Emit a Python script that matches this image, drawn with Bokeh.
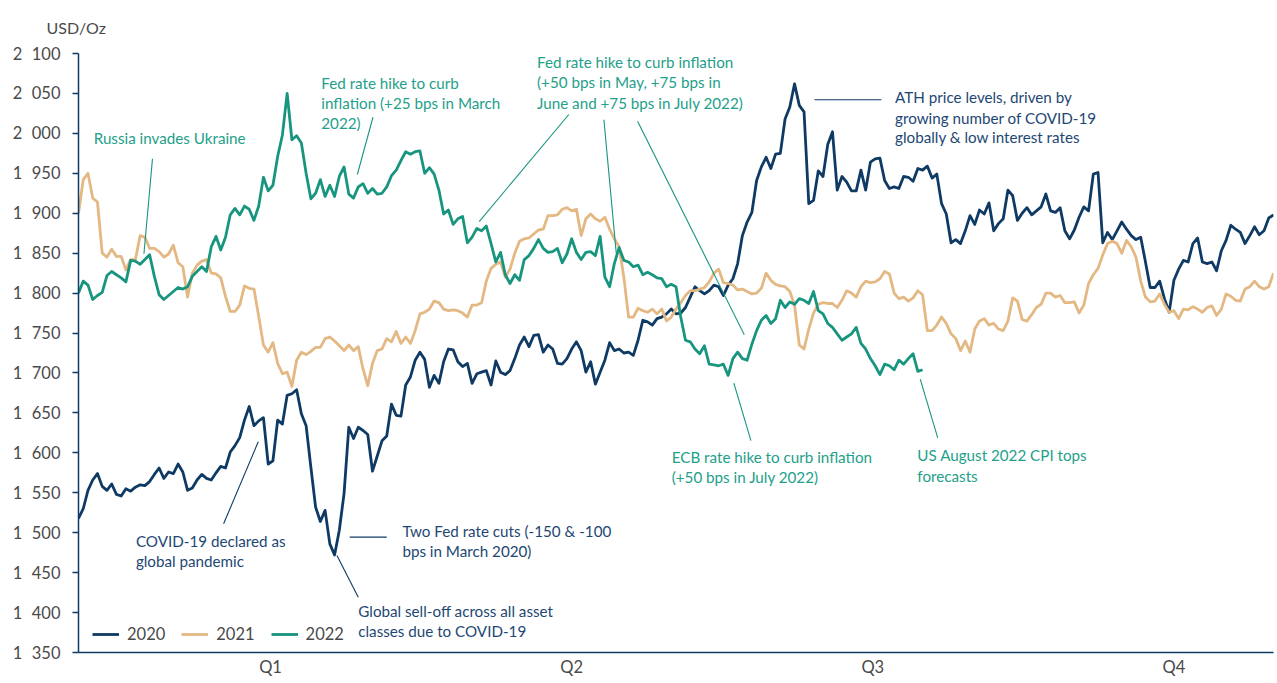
from bokeh.plotting import figure
from bokeh.models import Range1d, FixedTicker, Legend, ColumnDataSource
from bokeh.core.properties import value
from bokeh.embed import file_html
from bokeh.resources import INLINE

# ---------------- data (gold price, USD/Oz, per trading day) ----------------
gold_2020 = [
    1518, 1530, 1553, 1566, 1574, 1558, 1553, 1561, 1548, 1546,
    1555, 1552, 1557, 1560, 1559, 1564, 1573, 1581, 1568,
    1576, 1574, 1586, 1576, 1553, 1556, 1566, 1573, 1568,
    1566, 1575, 1583, 1581, 1601, 1609, 1619, 1641, 1658, 1634,
    1640, 1644, 1586, 1590, 1641, 1636, 1672, 1674, 1679, 1649,
    1634, 1582, 1532,
    1514, 1528, 1486, 1472, 1503, 1549, 1632, 1618, 1632, 1628,
    1623, 1577, 1596, 1615, 1621, 1661, 1647, 1646, 1685, 1695,
    1716, 1726, 1717, 1682, 1697, 1687, 1714, 1730, 1729,
    1714, 1708, 1712, 1687, 1699, 1701, 1703, 1685, 1715, 1701,
    1698, 1703, 1718, 1735, 1745, 1733, 1747, 1748, 1726, 1735,
    1730, 1712, 1711, 1718, 1730, 1739, 1728, 1701, 1714, 1686,
    1701, 1716, 1738, 1728, 1730, 1725, 1726, 1722, 1741,
    1766,
    1764, 1760, 1768, 1770, 1774, 1780, 1774, 1775, 1782, 1795,
    1808, 1803, 1799, 1803, 1810, 1808, 1797, 1810, 1818, 1837,
    1872, 1889, 1901, 1941, 1958, 1970, 1956, 1974, 1975, 2018,
    2033, 2062, 2035, 2027, 1912, 1916, 1953, 1946, 1986, 2002,
    1929, 1946, 1939, 1928, 1928, 1954, 1929, 1964, 1968, 1969,
    1941, 1931, 1933, 1931, 1946, 1945, 1940, 1956, 1954,
    1959, 1944, 1949, 1912, 1899, 1863, 1867, 1862, 1878, 1897,
    1886, 1904, 1899, 1913, 1878, 1887, 1893, 1929, 1922, 1891,
    1900, 1907, 1898, 1903, 1908, 1924, 1903, 1901, 1907,
    1878, 1868, 1879, 1895, 1908, 1903, 1949, 1951, 1863, 1876,
    1867, 1878, 1889, 1880, 1872, 1867, 1870, 1839, 1807,
    1807, 1815, 1793, 1776, 1816, 1830, 1841, 1839, 1862, 1869,
    1839, 1837, 1839, 1828, 1853, 1866, 1885, 1880, 1876, 1862,
    1872, 1883, 1873, 1878, 1894, 1898,
]

gold_2021 = [
    1900, 1942, 1950, 1919, 1914, 1850, 1845, 1855, 1846, 1846,
    1829, 1842, 1842, 1872, 1870, 1856, 1856, 1852, 1845, 1849,
    1860, 1838, 1833, 1795, 1825, 1835, 1840, 1842, 1825, 1824,
    1819, 1796, 1777, 1777, 1785, 1809, 1806, 1805, 1771,
    1735, 1726, 1738, 1712, 1699, 1701, 1683, 1716, 1726, 1723,
    1727, 1732, 1732,
    1743, 1745, 1740, 1734, 1728, 1735, 1728, 1733, 1705, 1684,
    1712, 1728, 1730, 1743, 1739, 1752, 1737, 1745, 1737, 1753,
    1774, 1776, 1780, 1790, 1788, 1780, 1778, 1779, 1778, 1775,
    1770, 1785, 1785, 1788, 1815, 1831, 1836, 1839, 1820, 1830,
    1850, 1865, 1868, 1869, 1874, 1879, 1880, 1897, 1897, 1898,
    1905, 1907, 1903, 1905, 1872, 1893, 1899, 1893, 1890, 1895,
    1880, 1868, 1858, 1820, 1770, 1770, 1781,
    1778, 1776, 1780, 1774, 1780, 1765, 1770, 1780, 1788, 1797,
    1803, 1803, 1805, 1807, 1814, 1825, 1830, 1813, 1812, 1810,
    1804, 1805, 1802, 1799, 1800, 1806, 1825, 1816, 1811, 1809,
    1808, 1802, 1785, 1735, 1730, 1755, 1775, 1786, 1788, 1787,
    1787, 1782, 1791, 1803, 1800, 1795, 1808, 1815, 1813, 1814,
    1818, 1827, 1824, 1800, 1793, 1795, 1790, 1794, 1803, 1798,
    1753, 1753, 1760, 1770, 1762, 1749, 1743,
    1728, 1740, 1726, 1755, 1765, 1768, 1760, 1762, 1755,
    1753, 1765, 1794, 1790, 1767, 1765, 1773, 1782, 1786, 1800,
    1800, 1795, 1797, 1788, 1788, 1789, 1775, 1785, 1812, 1823,
    1831, 1848, 1862, 1865, 1862, 1850, 1866, 1858, 1845, 1815,
    1795, 1789, 1790, 1799, 1786, 1776, 1778, 1768, 1780, 1779,
    1783, 1780, 1776, 1782, 1784, 1772, 1780, 1799, 1796, 1791,
    1790, 1805, 1808, 1815, 1808, 1805, 1808, 1825,
]

gold_2022 = [
    1800, 1815, 1810, 1792, 1797, 1801, 1822, 1827, 1823, 1819,
    1814, 1841, 1840, 1836, 1842, 1848, 1821, 1798, 1792,
    1797, 1802, 1807, 1805, 1808, 1821, 1827, 1833, 1827, 1858,
    1871, 1854, 1870, 1898, 1906, 1898, 1909, 1905, 1891,
    1909, 1945, 1928, 1935, 1971, 1998, 2050, 1992, 1997, 1988,
    1950, 1918, 1925, 1942, 1921, 1935,
    1921, 1946, 1958, 1924, 1919, 1933, 1937, 1925, 1931,
    1924, 1925, 1933, 1947, 1954, 1966, 1977, 1974, 1977, 1978,
    1950, 1957, 1949, 1929, 1899, 1904, 1886, 1893, 1896, 1863,
    1870, 1881, 1878, 1884, 1862, 1839, 1851, 1823, 1812, 1823,
    1816, 1842, 1847, 1856, 1867, 1856, 1851, 1852, 1856,
    1838, 1849, 1868, 1851, 1842, 1851, 1852, 1847, 1871, 1820,
    1808, 1837, 1857, 1841, 1839, 1833, 1835, 1823, 1826,
    1823, 1819, 1818, 1808, 1811, 1808, 1770, 1741,
    1739, 1730, 1724, 1734, 1711, 1710, 1709, 1711, 1697, 1718,
    1726, 1718, 1716, 1736, 1753,
    1766, 1772, 1762, 1768, 1791, 1782, 1789, 1786, 1793, 1791,
    1787, 1802, 1778, 1774, 1762, 1757, 1749, 1741,
    1745, 1749, 1757, 1737, 1730, 1718, 1709, 1698, 1711, 1709,
    1704, 1716, 1711, 1718, 1724, 1702, 1704,
]

series_names = ["2020", "2021", "2022"]
y_tick_values = [1350, 1400, 1450, 1500, 1550, 1600, 1650, 1700, 1750,
                 1800, 1850, 1900, 1950, 2000, 2050, 2100]
y_tick_labels = ["1\u2007350", "1\u2007400", "1\u2007450", "1\u2007500",
                 "1\u2007550", "1\u2007600", "1\u2007650", "1\u2007700",
                 "1\u2007750", "1\u2007800", "1\u2007850", "1\u2007900",
                 "1\u2007950", "2\u2007000", "2\u2007050", "2\u2007100"]
quarter_labels = ["Q1", "Q2", "Q3", "Q4"]
quarter_days = [40.5, 104, 167.5, 231]
unit_label = "USD/Oz"

# ---------------- style ----------------
NAVY = "#0e3a64"
TAN = "#e3b883"
TEAL = "#17957f"
NAVY_TXT = "#1d4773"
TEAL_TXT = "#23a08a"
GREY = "#4a4a4a"
FONT = "Lato"

p = figure(width=1276, height=682, output_backend="svg", toolbar_location=None,
           x_range=Range1d(0, 252), y_range=Range1d(1350, 2100),
           min_border_left=78, min_border_right=3, min_border_top=53,
           min_border_bottom=30)
p.outline_line_color = None
p.grid.visible = False
p.background_fill_color = "white"

p.title.text = unit_label
p.title.text_font = FONT
p.title.text_font_size = "16px"
p.title.text_font_style = "normal"
p.title.text_color = GREY
p.title.align = "left"
p.title.offset = -32
p.title.vertical_align = "top"
p.title.standoff = 30

# axes
ya = p.yaxis[0]
ya.ticker = FixedTicker(ticks=y_tick_values)
ya.major_label_overrides = {v: l for v, l in zip(y_tick_values, y_tick_labels)}
ya.axis_line_color = NAVY
ya.axis_line_width = 1.5
ya.major_tick_line_color = NAVY
ya.major_tick_line_width = 1.5
ya.major_tick_out = 6
ya.major_tick_in = 0
ya.minor_tick_line_color = None
ya.major_label_text_font = FONT
ya.major_label_text_font_size = "16.5px"
ya.major_label_text_color = GREY
ya.major_label_standoff = 12

xa = p.xaxis[0]
xa.ticker = FixedTicker(ticks=quarter_days)
xa.major_label_overrides = {d: l for d, l in zip(quarter_days, quarter_labels)}
xa.axis_line_color = NAVY
xa.axis_line_width = 1.5
xa.major_tick_line_color = None
xa.major_tick_out = 0
xa.major_tick_in = 0
xa.minor_tick_line_color = None
xa.major_label_text_font = FONT
xa.major_label_text_font_size = "16.5px"
xa.major_label_text_color = GREY
xa.major_label_standoff = 4

# lines
renderers = []
for vals, color in zip([gold_2020, gold_2021, gold_2022], [NAVY, TAN, TEAL]):
    r = p.line(x=list(range(len(vals))), y=vals, line_color=color, line_width=2.8,
               line_join="round")
    renderers.append(r)

legend = Legend(items=[(n, [r]) for n, r in zip(series_names, renderers)],
                location=(14, 8), orientation="horizontal",
                glyph_width=27, glyph_height=20, label_standoff=8, spacing=16,
                padding=0, margin=0, border_line_color=None,
                background_fill_alpha=0,
                label_text_font=FONT, label_text_font_size="16.5px",
                label_text_color=GREY)
p.add_layout(legend, "center")

# ---------------- annotations ----------------
ann_text = [
    ("Russia invades Ukraine", 3.2, 1994.8, TEAL_TXT),
    ("Fed rate hike to curb", 51.2, 2062.8, TEAL_TXT),
    ("inflation (+25 bps in March", 51.2, 2037.8, TEAL_TXT),
    ("2022)", 51.2, 2012.7, TEAL_TXT),
    ("Fed rate hike to curb inflation", 96.7, 2089.1, TEAL_TXT),
    ("(+50 bps in May, +75 bps in", 96.7, 2064.1, TEAL_TXT),
    ("June and +75 bps in July 2022)", 96.7, 2037.8, TEAL_TXT),
    ("ATH price levels, driven by", 172.2, 2045.3, NAVY_TXT),
    ("growing number of COVID-19", 172.2, 2019.5, NAVY_TXT),
    ("globally & low interest rates", 172.2, 1995.2, NAVY_TXT),
    ("ECB rate hike to curb inflation", 125.1, 1594.5, TEAL_TXT),
    ("(+50 bps in July 2022)", 125.1, 1569.5, TEAL_TXT),
    ("US August 2022 CPI tops", 176.9, 1596.7, TEAL_TXT),
    ("forecasts", 176.9, 1571.6, TEAL_TXT),
    ("COVID-19 declared as", 12.1, 1489.4, NAVY_TXT),
    ("global pandemic", 12.1, 1464.3, NAVY_TXT),
    ("Two Fed rate cuts (-150 & -100", 68.3, 1501.9, NAVY_TXT),
    ("bps in March 2020)", 68.3, 1476.8, NAVY_TXT),
    ("Global sell-off across all asset", 59.0, 1401.7, NAVY_TXT),
    ("classes due to COVID-19", 59.0, 1376.7, NAVY_TXT),
]
tsrc = ColumnDataSource(dict(text=[a[0] for a in ann_text], x=[a[1] for a in ann_text],
                             y=[a[2] for a in ann_text], c=[a[3] for a in ann_text]))
p.text(x="x", y="y", text="text", source=tsrc, text_color="c",
       text_font=value(FONT), text_font_size="15.2px",
       text_baseline="middle", text_align="left")

leaders = [
    (15.6, 1968.2, 13.8, 1849.3, TEAL),
    (62.1, 2020.2, 58.8, 1948.5, TEAL),
    (103.4, 2023.6, 84.5, 1889.6, TEAL),
    (110.8, 2017.0, 113.4, 1850.0, TEAL),
    (117.9, 2015.2, 140.4, 1747.8, TEAL),
    (155.2, 2042.0, 169.3, 2042.0, NAVY),
    (138.2, 1687.2, 141.8, 1615.4, TEAL),
    (177.5, 1692.2, 181.2, 1618.8, TEAL),
    (37.9, 1613.8, 30.6, 1511.1, NAVY),
    (57.2, 1494.4, 65.0, 1494.4, NAVY),
    (54.5, 1471.5, 59.0, 1419.3, NAVY),
]
lsrc = ColumnDataSource(dict(x0=[l[0] for l in leaders], y0=[l[1] for l in leaders],
                             x1=[l[2] for l in leaders], y1=[l[3] for l in leaders],
                             c=[l[4] for l in leaders]))
p.segment(x0="x0", y0="y0", x1="x1", y1="y1", source=lsrc, line_color="c", line_width=1.1)

open("out.html", "w").write(file_html(p, INLINE))
